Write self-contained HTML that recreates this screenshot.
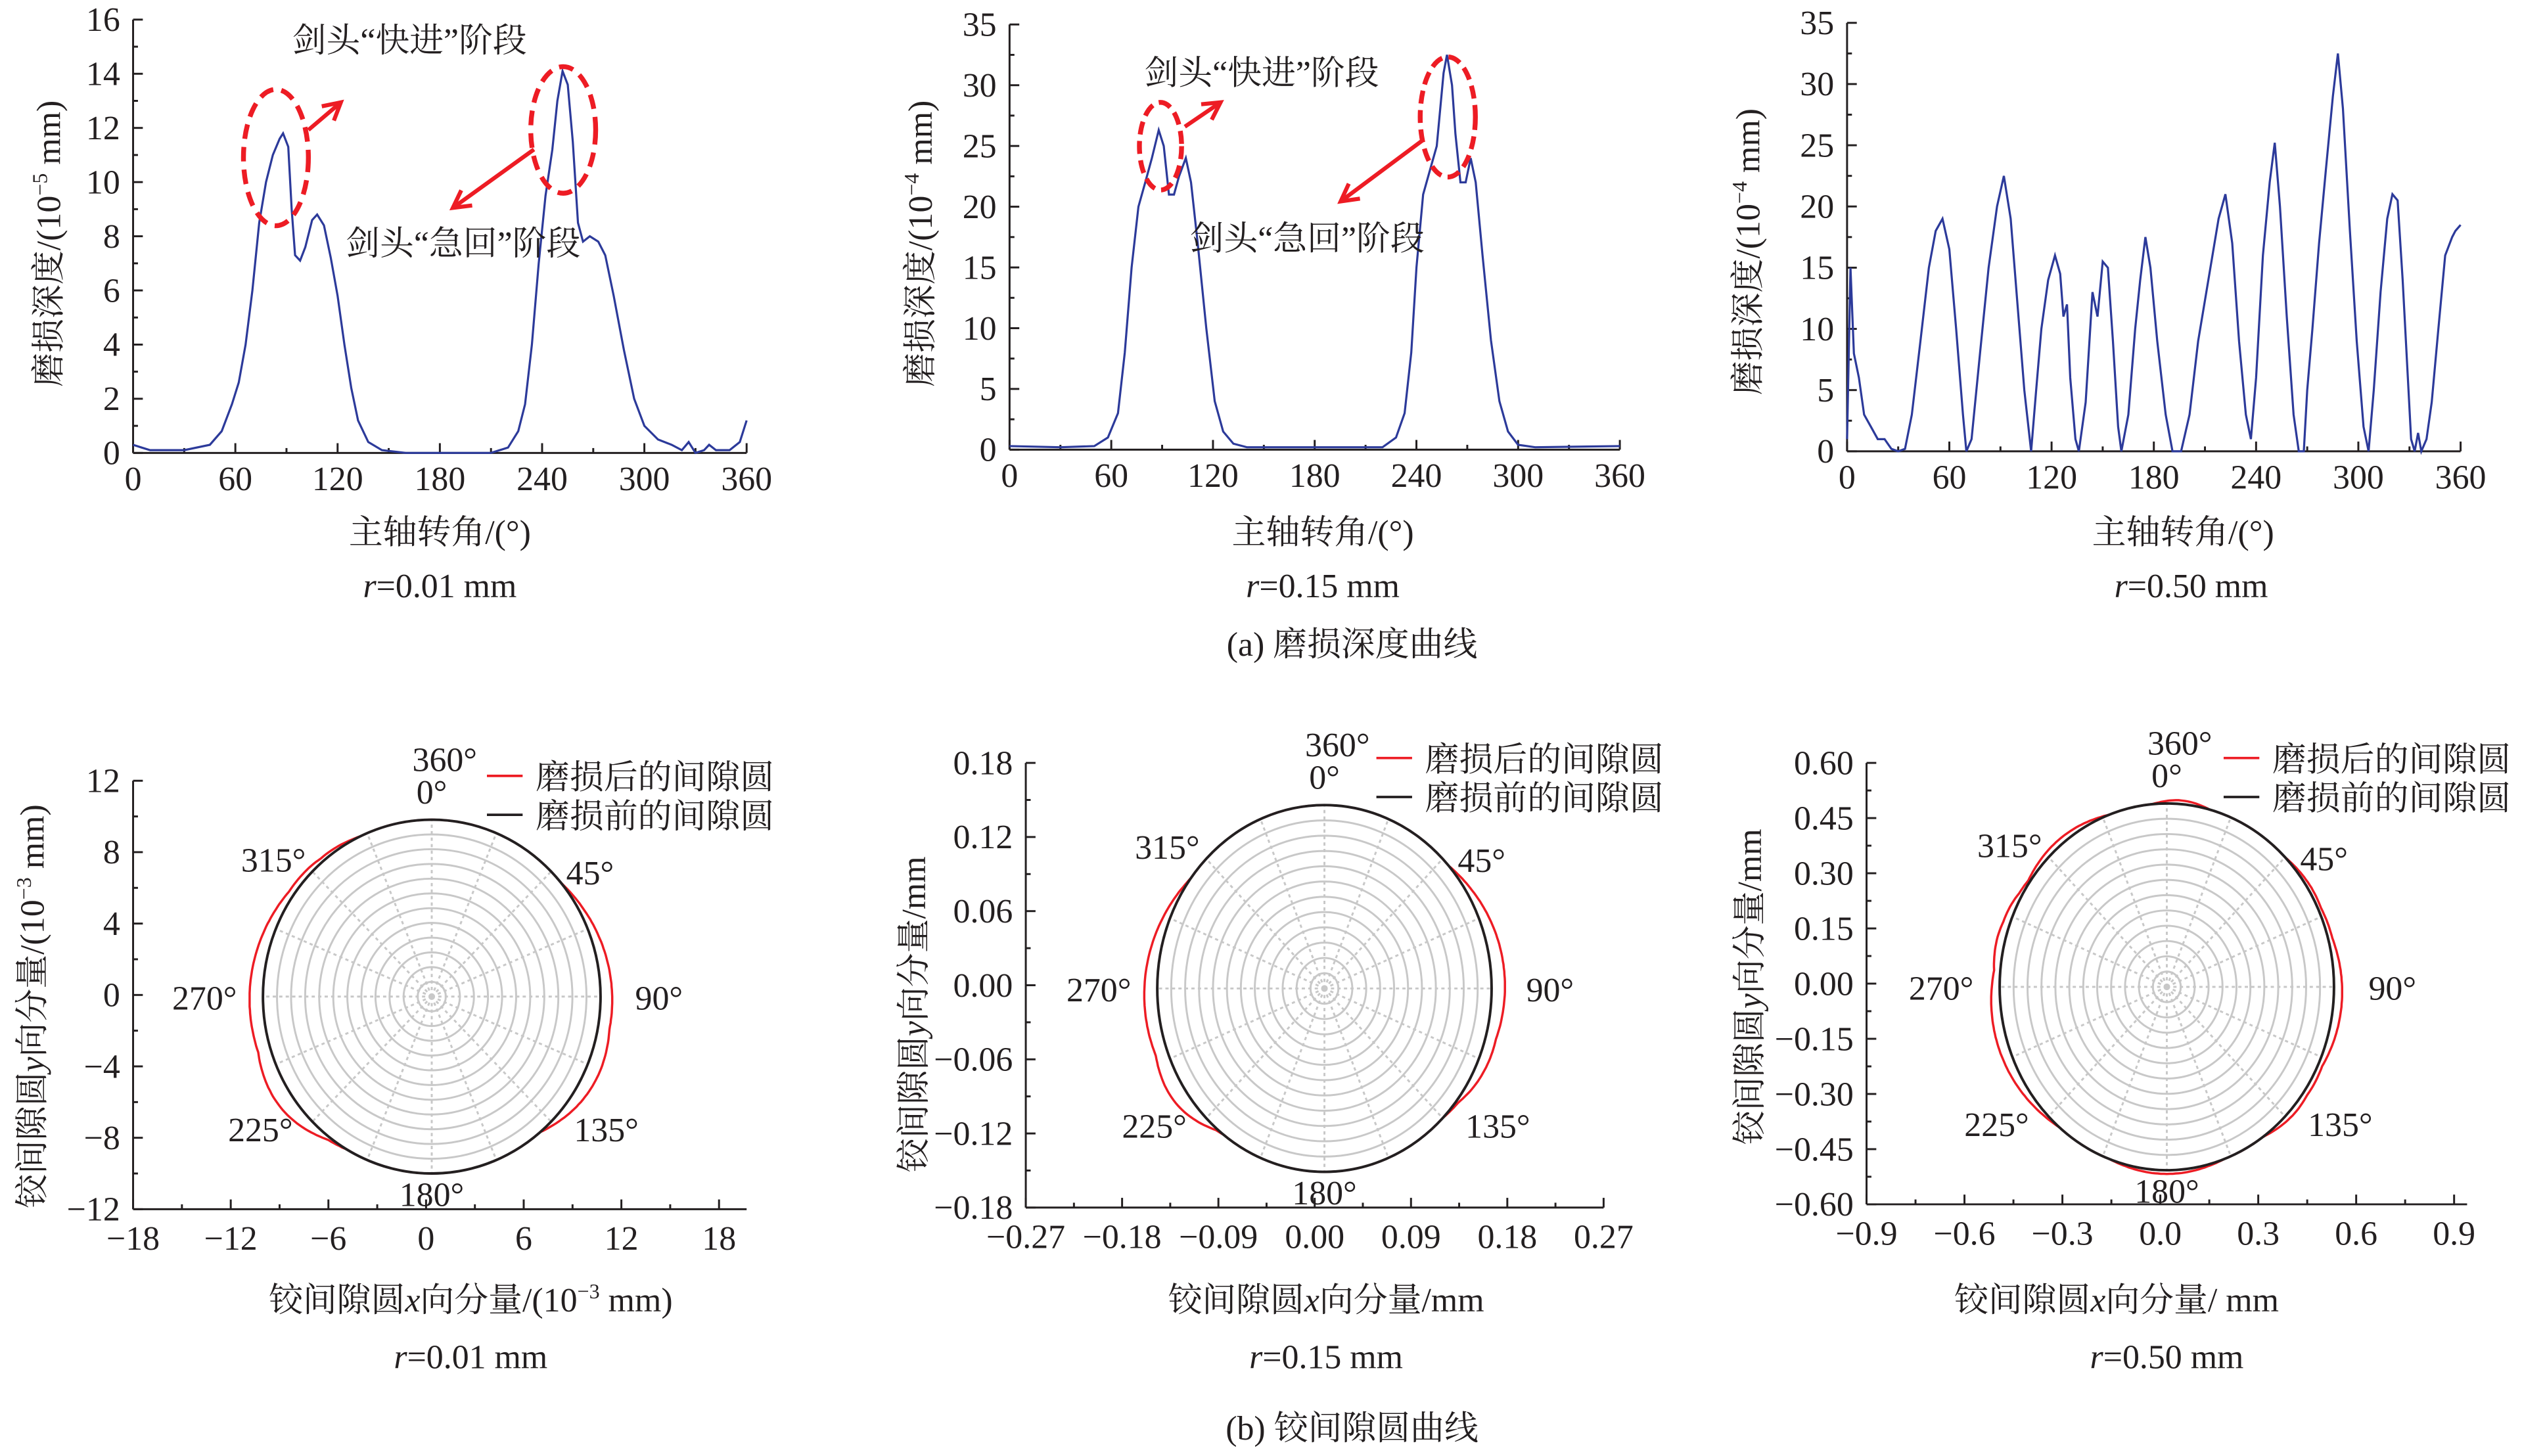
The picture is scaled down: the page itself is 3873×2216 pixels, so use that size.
<!DOCTYPE html>
<html><head><meta charset="utf-8"><style>
html,body{margin:0;padding:0;background:#fff}
svg{display:block}
text{font-family:"Liberation Serif","Noto Serif CJK SC",serif;fill:#231f20}
</style></head><body>
<svg id="s" width="3873" height="2216" viewBox="0 0 1568 897" xmlns="http://www.w3.org/2000/svg">
<g id="g"></g>
<g font-size="21">
<text x="180" y="32">剑头“快进”阶段</text>
<text x="213" y="157">剑头“急回”阶段</text>
<text x="705" y="52">剑头“快进”阶段</text>
<text x="733" y="154">剑头“急回”阶段</text>
<text x="271" y="335" text-anchor="middle">主轴转角/(°)</text>
<text x="815" y="335" text-anchor="middle">主轴转角/(°)</text>
<text x="1345" y="335" text-anchor="middle">主轴转角/(°)</text>
<text x="271" y="368" text-anchor="middle"><tspan font-style="italic">r</tspan>=0.01 mm</text>
<text x="815" y="368" text-anchor="middle"><tspan font-style="italic">r</tspan>=0.15 mm</text>
<text x="1350" y="368" text-anchor="middle"><tspan font-style="italic">r</tspan>=0.50 mm</text>
<text x="833" y="404" text-anchor="middle">(a) 磨损深度曲线</text>
<text transform="translate(37,150) rotate(-90)" text-anchor="middle">磨损深度/(10<tspan font-size="13" dy="-8">−5</tspan><tspan dy="8"> mm)</tspan></text>
<text transform="translate(574,150) rotate(-90)" text-anchor="middle">磨损深度/(10<tspan font-size="13" dy="-8">−4</tspan><tspan dy="8"> mm)</tspan></text>
<text transform="translate(1084,155) rotate(-90)" text-anchor="middle">磨损深度/(10<tspan font-size="13" dy="-8">−4</tspan><tspan dy="8"> mm)</tspan></text>
<text x="290" y="808" text-anchor="middle">铰间隙圆<tspan font-style="italic">x</tspan>向分量/(10<tspan font-size="13" dy="-8">−3</tspan><tspan dy="8"> mm)</tspan></text>
<text x="817" y="808" text-anchor="middle">铰间隙圆<tspan font-style="italic">x</tspan>向分量/mm</text>
<text x="1304" y="808" text-anchor="middle">铰间隙圆<tspan font-style="italic">x</tspan>向分量/ mm</text>
<text x="290" y="843" text-anchor="middle"><tspan font-style="italic">r</tspan>=0.01 mm</text>
<text x="817" y="843" text-anchor="middle"><tspan font-style="italic">r</tspan>=0.15 mm</text>
<text x="1335" y="843" text-anchor="middle"><tspan font-style="italic">r</tspan>=0.50 mm</text>
<text x="833" y="887" text-anchor="middle">(b) 铰间隙圆曲线</text>
<text transform="translate(27,620) rotate(-90)" text-anchor="middle">铰间隙圆<tspan font-style="italic">y</tspan>向分量/(10<tspan font-size="13" dy="-8">−3</tspan><tspan dy="8"> mm)</tspan></text>
<text transform="translate(570,625) rotate(-90)" text-anchor="middle">铰间隙圆<tspan font-style="italic">y</tspan>向分量/mm</text>
<text transform="translate(1085,608) rotate(-90)" text-anchor="middle">铰间隙圆<tspan font-style="italic">y</tspan>向分量/mm</text>
</g>
<g font-size="21" id="lbl"></g>
</svg>
<script>
(function(){
var g=document.getElementById('g'),L=document.getElementById('lbl'),NS="http://www.w3.org/2000/svg";
function el(p,t,a,txt){var e=document.createElementNS(NS,t);for(var k in a)e.setAttribute(k,a[k]);if(txt!=null)e.textContent=txt;p.appendChild(e);return e;}
function line(x1,y1,x2,y2,c,w,d){var a={x1:x1,y1:y1,x2:x2,y2:y2,stroke:c||'#231f20','stroke-width':w||1.2};if(d)a['stroke-dasharray']=d;el(g,'line',a);}
function txt(x,y,s,anc){el(L,'text',{x:x,y:y,'text-anchor':anc||'middle'},s);}
function plotTop(x0,x1,y0,y1,ymax,step,pts){
 line(x0,y0,x1,y0);line(x0,y0,x0,y1);
 for(var a=0;a<=360;a+=30){var x=x0+(x1-x0)*a/360;line(x,y0,x,y0-(a%60?3:6));if(a%60==0)txt(x,y0+23,a);}
 for(var v=0;v<=ymax;v+=step/2){var y=y0-(y0-y1)*v/ymax;line(x0,y,x0+((v/step)%1?3:6),y);if((v/step)%1==0)txt(x0-8,y+7,v,'end');}
 var d='';for(var i=0;i<pts.length;i++){var x=x0+(x1-x0)*pts[i][0]/360,y=y0-(y0-y1)*pts[i][1]/ymax;d+=(i?'L':'M')+x.toFixed(1)+','+y.toFixed(1);}
 el(g,'path',{d:d,fill:'none',stroke:'#2c3a9a','stroke-width':1.3});
}
plotTop(82,460,279,12,16,2,[[0,0.3],[5,0.2],[10,0.1],[30,0.1],[45,0.3],[52,0.8],[58,1.8],[62,2.6],[66,4],[70,6],[74,8.5],[78,10],[82,11],[86,11.6],[88,11.8],[91,11.3],[93,9],[95,7.3],[98,7.1],[101,7.6],[105,8.6],[108,8.8],[112,8.4],[116,7.2],[120,5.8],[124,4],[128,2.4],[132,1.2],[138,0.4],[146,0.1],[160,0],[210,0],[220,0.2],[226,0.8],[230,1.8],[234,4],[238,7],[242,9.5],[246,11.2],[249,13],[252,14.1],[255,13.6],[258,11.5],[261,8.5],[264,7.8],[268,8],[273,7.8],[277,7.3],[282,5.8],[288,3.8],[294,2],[300,1],[308,0.5],[316,0.3],[322,0.1],[326,0.4],[330,0],[335,0.1],[338,0.3],[342,0.1],[350,0.1],[356,0.4],[360,1.2]]);
plotTop(622,998,277,15,35,5,[[0,0.3],[30,0.2],[50,0.3],[58,1],[64,3],[68,8],[72,15],[76,20],[80,22],[84,24],[88,26.3],[91,25],[94,21],[97,21],[100,22.5],[104,24],[107,22],[111,17],[116,10],[121,4],[126,1.5],[132,0.5],[140,0.2],[220,0.2],[228,1],[233,3],[237,8],[240,15],[244,21],[248,23],[252,25],[256,31],[258,32.5],[261,30],[263,26],[266,22],[269,22],[272,24],[275,22],[279,16],[284,9],[289,4],[294,1.5],[300,0.4],[310,0.2],[360,0.3]]);
plotTop(1138,1516,278,14,35,5,[[0,1],[2,15],[4,8],[7,6],[10,3],[14,2],[18,1],[22,1],[26,0.2],[30,0],[34,0.2],[38,3],[43,9],[48,15],[52,18],[56,19],[60,16.5],[64,10],[68,3],[70,0],[73,1],[78,8],[83,15],[88,20],[92,22.5],[96,19],[100,12],[104,5],[108,0],[111,5],[114,10],[118,14],[122,16],[125,14.5],[127,11],[129,12],[131,6],[134,1],[136,0],[140,4],[144,13],[147,11],[150,15.5],[153,15],[156,9],[159,2],[161,0],[165,3],[169,10],[172,14],[175,17.5],[178,15],[182,9],[187,3],[191,0],[196,0],[201,3],[206,9],[212,14],[218,19],[222,21],[226,17],[230,9],[234,3],[237,1],[240,6],[244,16],[248,22],[251,25.2],[254,20],[258,11],[262,3],[265,0],[268,0],[270,5],[273,10],[277,17],[281,23],[285,29],[288,32.5],[291,28],[295,18],[299,9],[303,2],[306,0],[309,5],[313,13],[317,19],[320,21],[323,20.5],[326,14],[329,6],[331,1],[333,0],[335,1.5],[337,0],[340,1],[343,4],[347,10],[351,16],[355,17.5],[357,18],[360,18.5]]);
el(g,'ellipse',{cx:170,cy:97,rx:20,ry:42,fill:'none',stroke:'#ed1c24','stroke-width':3,'stroke-dasharray':'9,5'});
el(g,'ellipse',{cx:347,cy:80,rx:20,ry:39,fill:'none',stroke:'#ed1c24','stroke-width':3,'stroke-dasharray':'9,5'});
el(g,'ellipse',{cx:715,cy:90,rx:13,ry:27,fill:'none',stroke:'#ed1c24','stroke-width':3,'stroke-dasharray':'8,4'});
el(g,'ellipse',{cx:892,cy:72,rx:17,ry:37,fill:'none',stroke:'#ed1c24','stroke-width':3,'stroke-dasharray':'8,4'});
function arrow(x1,y1,x2,y2){line(x1,y1,x2,y2,'#ed1c24',2.5);var a=Math.atan2(y2-y1,x2-x1),s=12;
 el(g,'polyline',{points:(x2-s*Math.cos(a-0.5))+','+(y2-s*Math.sin(a-0.5))+' '+x2+','+y2+' '+(x2-s*Math.cos(a+0.5))+','+(y2-s*Math.sin(a+0.5)),fill:'none',stroke:'#ed1c24','stroke-width':2.5});}
arrow(190,80,210,63);arrow(329,92,279,128);arrow(730,78,752,63);arrow(877,86,826,124);
function polar(o){
 var cx=o.cx,cy=o.cy,rx=o.rx,ry=o.ry;
 line(o.ax0,o.ay1,o.ax0,o.ay0);line(o.ax0,o.ay0,o.ax1,o.ay0);
 for(var i=0;i<o.xt.length;i++){var x=o.ax0+(o.xe-o.ax0)*i/(o.xt.length-1);line(x,o.ay0,x,o.ay0-6);txt(x,o.ay0+25,o.xt[i]);if(i<o.xt.length-1){var xm=x+(o.xe-o.ax0)/(o.xt.length-1)/2;line(xm,o.ay0,xm,o.ay0-3);}}
 for(var i=0;i<o.yt.length;i++){var y=o.ay1+(o.ay0-o.ay1)*i/(o.yt.length-1);line(o.ax0,y,o.ax0+6,y);txt(o.ax0-8,y+7,o.yt[i],'end');if(i<o.yt.length-1){var ym=y+(o.ay0-o.ay1)/(o.yt.length-1)/2;line(o.ax0,ym,o.ax0+3,ym);}}
 for(var k=1;k<=12;k++)el(g,'ellipse',{cx:cx,cy:cy,rx:rx*k/12,ry:ry*k/12,fill:'none',stroke:'#c8c8c8','stroke-width':1.2});
 for(var k=0;k<16;k++){var a=k*Math.PI/8;line(cx,cy,cx+rx*Math.sin(a),cy-ry*Math.cos(a),'#c8c8c8',1.2,'2,2');}
 var d='';for(var t=0;t<=360;t+=1){var a=t*Math.PI/180,r=1+o.bump(t);d+=(t?'L':'M')+(cx+rx*r*Math.sin(a)).toFixed(1)+','+(cy-ry*r*Math.cos(a)).toFixed(1);}
 el(g,'path',{d:d,fill:'none',stroke:'#ed1c24','stroke-width':1.4});
 el(g,'ellipse',{cx:cx,cy:cy,rx:rx,ry:ry,fill:'none',stroke:'#231f20','stroke-width':1.6});
 var lab=[[0,'0°',0,-10],[45,'45°',24,8],[90,'90°',36,8],[135,'135°',34,12],[180,'180°',0,20],[225,'225°',-32,12],[270,'270°',-36,8],[315,'315°',-24,0]];
 lab.forEach(function(l){var a=l[0]*Math.PI/180;txt(cx+rx*Math.sin(a)+l[2],cy-ry*Math.cos(a)+l[3],l[1]);});
 txt(cx+8,cy-ry-30,'360°');
 var lx=o.lx;line(lx,o.ly,lx+22,o.ly,'#ed1c24',1.5);line(lx,o.ly+24,lx+22,o.ly+24,'#231f20',1.5);
 el(L,'text',{x:lx+30,y:o.ly+8,'font-size':21},'磨损后的间隙圆');el(L,'text',{x:lx+30,y:o.ly+32,'font-size':21},'磨损前的间隙圆');
}
function g1(t,c,w,h){var d=Math.abs(((t-c+540)%360)-180);return d<w?h*Math.cos(d/w*Math.PI/2):0;}
polar({cx:266,cy:614,rx:104,ry:109,ax0:82,ax1:460,xe:443,ay0:745,ay1:481,xt:['−18','−12','−6','0','6','12','18'],yt:['12','8','4','0','−4','−8','−12'],lx:300,ly:478,
 bump:function(t){return g1(t,95,45,0.07)+g1(t,120,20,0.03)+g1(t,265,55,0.08)+g1(t,235,18,0.04)+g1(t,320,15,0.02);}});
polar({cx:816,cy:609,rx:103,ry:113,ax0:632,ax1:988,xe:988,ay0:744,ay1:470,xt:['−0.27','−0.18','−0.09','0.00','0.09','0.18','0.27'],yt:['0.18','0.12','0.06','0.00','−0.06','−0.12','−0.18'],lx:848,ly:467,
 bump:function(t){return g1(t,88,40,0.08)+g1(t,262,45,0.08)+g1(t,235,15,0.04)+g1(t,120,15,0.02);}});
polar({cx:1335,cy:608,rx:103,ry:113,ax0:1150,ax1:1520,xe:1512,ay0:742,ay1:470,xt:['−0.9','−0.6','−0.3','0.0','0.3','0.6','0.9'],yt:['0.60','0.45','0.30','0.15','0.00','−0.15','−0.30','−0.45','−0.60'],lx:1370,ly:467,
 bump:function(t){return g1(t,95,30,0.05)+g1(t,60,15,0.02)+g1(t,130,15,0.03)+g1(t,180,20,0.02)+g1(t,255,35,0.06)+g1(t,290,15,0.04)+g1(t,320,20,0.03)+g1(t,5,10,0.02);}});
})();
</script>
</body></html>
